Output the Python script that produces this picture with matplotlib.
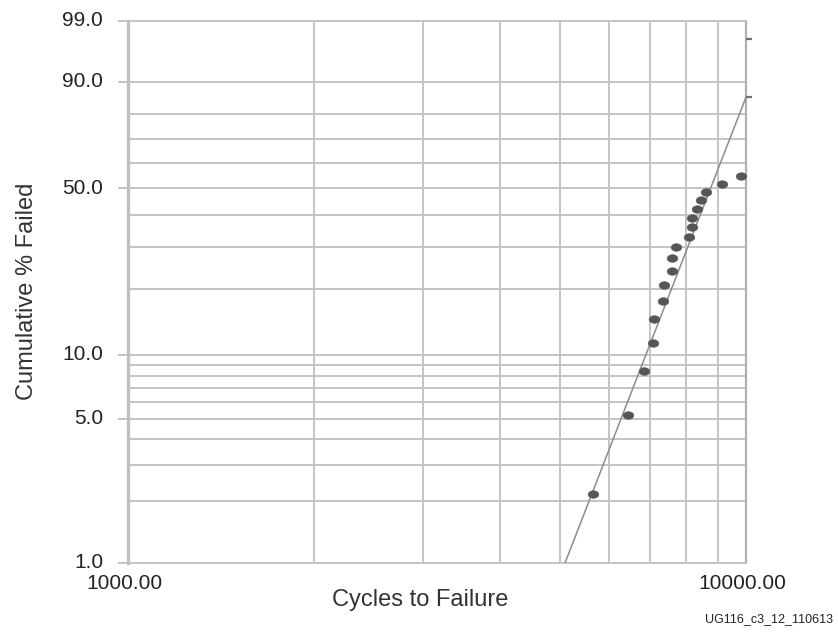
import numpy as np
import matplotlib
matplotlib.use("Agg")
import matplotlib.pyplot as plt
from matplotlib.path import Path
from matplotlib.transforms import Affine2D, ScaledTranslation
from matplotlib.ticker import FixedLocator, NullFormatter, FixedFormatter

# ---- data ----
cycles = [9815, 9135, 8614, 8455, 8320, 8176, 8167, 8077, 7695, 7598,
          7598, 7360, 7332, 7098, 7079, 6846, 6437, 5661]
pct_failed = [54.9, 51.6, 48.6, 45.5, 42.3, 39.1, 36.2, 32.8, 30.1, 26.9,
              23.9, 20.7, 17.6, 14.6, 11.4, 8.4, 5.2, 2.17]
fit_cycles = [5095, 10000]
fit_pct = [1.0, 85.6]
right_mark_cycles = [10000, 10000]
right_mark_pct = [97.6, 85.6]

y_tick_values = [1, 5, 10, 50, 90, 99]
y_tick_labels = ["1.0", "5.0", "10.0", "50.0", "90.0", "99.0"]
y_grid_values = [1, 2, 3, 4, 5, 6, 7, 8, 9, 10, 20, 30, 40, 50, 60, 70, 80, 90, 99]
x_tick_values = [1000, 10000]
x_tick_labels = ["1000.00", "10000.00"]
x_grid_values = [2000, 3000, 4000, 5000, 6000, 7000, 8000, 9000]

plt.rcParams['font.family'] = ['Liberation Sans', 'DejaVu Sans']


def fwd(p):
    p = np.asarray(p, dtype=float)
    with np.errstate(all='ignore'):
        q = np.clip(p / 100.0, 1e-9, 1 - 1e-9)
        return np.log(-np.log(1 - q))


def inv(w):
    w = np.asarray(w, dtype=float)
    with np.errstate(all='ignore'):
        return 100.0 * (1 - np.exp(-np.exp(w)))


fig = plt.figure(figsize=(8.38, 6.33), dpi=100)
ax = fig.add_axes([128 / 838, 1 - 563 / 633, (746 - 128) / 838, (563 - 20.5) / 633])

ax.set_xscale('log')
ax.set_yscale('function', functions=(fwd, inv))
ax.set_xlim(1000, 10000)
ax.set_ylim(1, 99)

grid_color = '#c4c4c4'
ax.yaxis.set_major_locator(FixedLocator(y_tick_values))
ax.yaxis.set_major_formatter(FixedFormatter(y_tick_labels))
ax.yaxis.set_minor_locator(FixedLocator(y_grid_values))
ax.yaxis.set_minor_formatter(NullFormatter())
ax.xaxis.set_major_locator(FixedLocator(x_tick_values))
ax.xaxis.set_major_formatter(FixedFormatter(x_tick_labels))
ax.xaxis.set_minor_locator(FixedLocator(x_grid_values))
ax.xaxis.set_minor_formatter(NullFormatter())

ax.grid(True, which='minor', color=grid_color, lw=1.4)
ax.grid(True, which='major', axis='y', color=grid_color, lw=1.4)
ax.tick_params(axis='y', which='major', length=7.2, width=1.4, color=grid_color,
               pad=10.8, labelsize=15, labelcolor='#222222')
ax.tick_params(axis='x', which='major', length=0, pad=7.6, labelsize=15,
               labelcolor='#222222')
ax.tick_params(which='minor', length=0)

for lbl in ax.get_xticklabels():
    lbl.set_transform(lbl.get_transform() + ScaledTranslation(-4 / 100, 0, fig.dpi_scale_trans))
for lbl in ax.get_yticklabels():
    lbl.set_transform(lbl.get_transform() + ScaledTranslation(0, 2 / 100, fig.dpi_scale_trans))

for s in ['top', 'bottom']:
    ax.spines[s].set_color(grid_color)
    ax.spines[s].set_linewidth(1.4)
ax.spines['right'].set_color('#b0b0b0')
ax.spines['right'].set_linewidth(1.6)
ax.spines['left'].set_color('#c0c0c0')
ax.spines['left'].set_linewidth(2.4)

# fit line
ax.plot(fit_cycles, fit_pct, color='#8c8c8c', lw=1.1, zorder=3)

# elliptical markers
ell = Path.unit_circle().transformed(Affine2D().scale(1.4, 1.0))
ax.plot(cycles, pct_failed, linestyle='none', marker=ell, markersize=7.8,
        markerfacecolor='#565656', markeredgecolor='#565656', markeredgewidth=0.3,
        zorder=4, clip_on=False)

# small dashes on the right edge
dash = Path([[0, 0], [1, 0]], [Path.MOVETO, Path.LINETO])
ax.plot(right_mark_cycles, right_mark_pct, linestyle='none', marker=dash,
        markersize=8, markeredgecolor='#707070', markeredgewidth=1.6,
        clip_on=False, zorder=5)

ax.set_xlabel("Cycles to Failure", fontsize=17, color='#333333', va='top')
ax.xaxis.set_label_coords((420 - 128) / 618, -0.048)
ax.set_ylabel("Cumulative % Failed", fontsize=17, color='#333333')
ax.yaxis.set_label_coords(-0.1456, 0.5)

fig.text(833 / 838, 0.022, "UG116_c3_12_110613", fontsize=9, color='#222222',
         ha='right', va='center')

fig.savefig("out.png", dpi=100)
